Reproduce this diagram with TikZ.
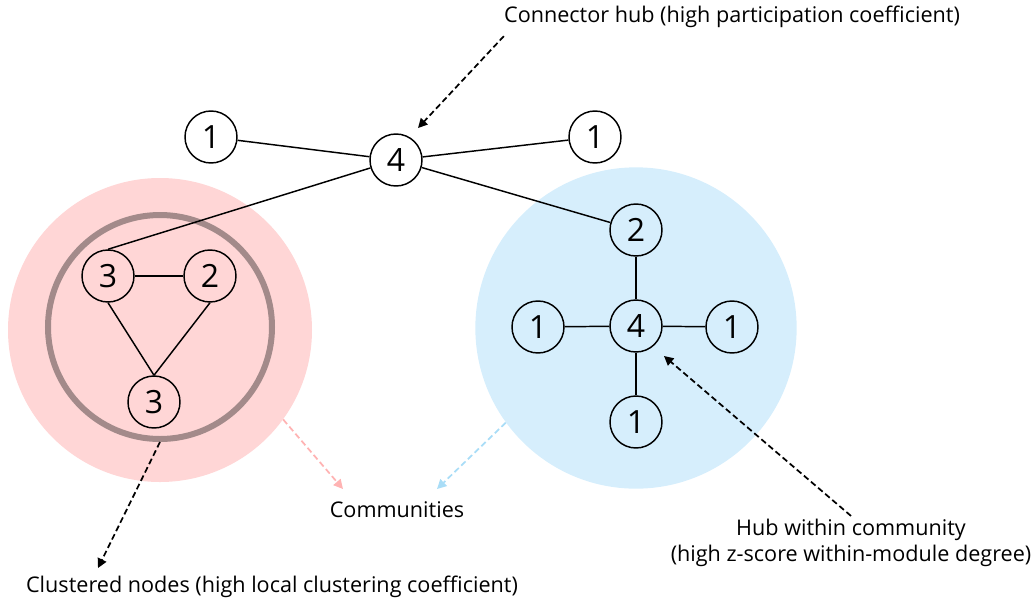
\documentclass[tikz,border=0pt]{standalone}
\usepackage{fontspec}
\setmainfont{Open Sans}
\usetikzlibrary{arrows.meta}

\definecolor{pinkfill}{HTML}{FFD6D6}
\definecolor{bluefill}{HTML}{D6EEFC}
\definecolor{ringgray}{HTML}{A38A8A}
\definecolor{pinkarrow}{HTML}{FFB3B3}
\definecolor{bluearrow}{HTML}{A9DDF7}

\tikzset{
  vertex/.style={draw, circle, line width=1.1pt, minimum size=39pt, inner sep=0pt,
    font=\fontsize{24}{24}\selectfont},
  edge/.style={line width=1.1pt},
  callout/.style={line width=1.3pt, dash pattern=on 4.5pt off 2.5pt,
    -{Triangle[length=7pt,width=7pt]}},
  caption/.style={font=\fontsize{16.2}{20}\selectfont, align=center, inner sep=0pt},
}

\begin{document}
\begin{tikzpicture}[x=0.75pt,y=-0.75pt]
\useasboundingbox (0,0) rectangle (1036,601);

% communities
\node[circle, fill=pinkfill, minimum size=228pt, inner sep=0pt] (pinkcomm) at (160,330) {};
\node[circle, fill=bluefill, minimum size=241pt, inner sep=0pt] (bluecomm) at (636,328) {};
\node[circle, draw=ringgray, line width=4.5pt, minimum size=168pt, inner sep=0pt] (ring) at (160,327) {};

% nodes
\node[vertex] (hub) at (396,160) {4};
\node[vertex] (l1) at (211,137) {1};
\node[vertex] (r1) at (595,137) {1};

\node[vertex] (p3) at (108,276) {3};
\node[vertex] (p2) at (210,276) {2};
\node[vertex] (q3) at (154,402) {3};

\node[vertex] (b2) at (636,230) {2};
\node[vertex] (b4) at (636,326) {4};
\node[vertex] (bl) at (538,327) {1};
\node[vertex] (br) at (732,327) {1};
\node[vertex] (bb) at (636,422) {1};

% edges
\draw[edge] (l1) -- (hub);
\draw[edge] (hub) -- (r1);
\draw[edge] (hub) -- (b2);
\draw[edge] (hub) -- (p3.north);
\draw[edge] (p3) -- (p2);
\draw[edge] (p3.south) -- (q3.north);
\draw[edge] (p2.south) -- (q3.north);
\draw[edge] (b2) -- (b4);
\draw[edge] (bl) -- (b4);
\draw[edge] (b4) -- (br);
\draw[edge] (b4) -- (bb);

% labels
\node[caption] (conlabel) at (732,17) {Connector hub (high participation coefficient)};
\node[caption] (commlabel) at (397,510) {Communities};
\node[caption] (clulabel) at (272,587) {Clustered nodes (high local clustering coefficient)};
\node[caption] (hubwlabel) at (851,543) {Hub within community\\(high z-score within-module degree)};

\coordinate (contip) at (418,128);
\coordinate (pinktip) at (343,489);
\coordinate (bluetip) at (437,489);
\coordinate (clutip) at (98,568);
\coordinate (hubwtip) at (664,356);

% callouts
\draw[callout] ([yshift=-6pt]conlabel.south west) -- (contip);
\draw[callout, pinkarrow] (pinkcomm.-36) -- (pinktip);
\draw[callout, bluearrow] (bluecomm.-144) -- (bluetip);
\draw[callout] (ring.south) -- (clutip);
\draw[callout] ([yshift=2pt]hubwlabel.north) -- (hubwtip);
\end{tikzpicture}
\end{document}
